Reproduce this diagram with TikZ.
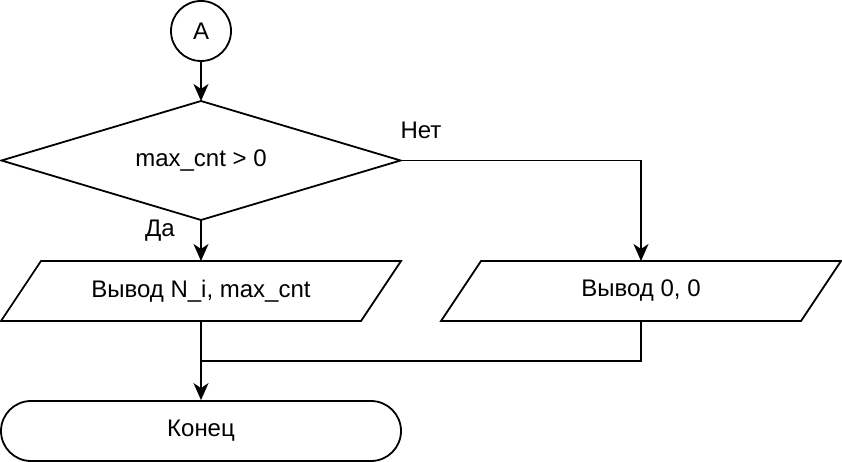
\documentclass[tikz,border=0pt]{standalone}
\usepackage{fontspec}
\setmainfont{Liberation Sans}
\usetikzlibrary{shapes.geometric,arrows.meta}
\begin{document}
\begin{tikzpicture}[x=1pt,y=-1pt,
  every node/.style={font=\fontsize{24}{28}\selectfont},
  line/.style={line width=1.8pt},
  arr/.style={line, -{Stealth[length=17pt,width=15pt,inset=5pt]}},
  shp/.style={draw, line width=1.8pt, inner sep=0pt},
  box/.style={rectangle, inner sep=0pt, outer sep=0pt}
]
\useasboundingbox (0,0) rectangle (842,462);
\node[shp, circle, minimum size=60pt] (a) at (201,31) {A};
\node[box, minimum width=399pt, minimum height=119pt] (d) at (201,160.5) {max\_cnt > 0};
\draw[line, line join=miter] (d.north) -- (d.east) -- (d.south) -- (d.west) -- cycle;
\node[box, minimum width=360pt, minimum height=60pt] (p1) at (201,291) {Вывод N\_i, max\_cnt};
\node[box, minimum width=360pt, minimum height=60pt] (p2) at (641,291) {Вывод 0, 0};
\draw[line, line join=miter] ([xshift=20pt]p1.north west) -- ([xshift=20pt]p1.north east) -- ([xshift=-20pt]p1.south east) -- ([xshift=-20pt]p1.south west) -- cycle;
\draw[line, line join=miter] ([xshift=20pt]p2.north west) -- ([xshift=20pt]p2.north east) -- ([xshift=-20pt]p2.south east) -- ([xshift=-20pt]p2.south west) -- cycle;
\node[shp, rectangle, rounded corners=30pt, minimum width=400pt, minimum height=60pt] (e) at (201,431) {Конец};
\coordinate (m) at (201,361);
\coordinate (r) at (641,361);
\coordinate (c) at (641,160.5);
\node (no) at (421,130) {Нет};
\node (yes) at (160,231) {Да};
\draw[arr] (a) -- (d.north);
\draw[arr] (d.south) -- (p1);
\draw[arr] (d.east) -- (c) -- (p2);
\draw[line] (p1) -- (m);
\draw[line] (p2) -- (r) -- (m);
\draw[arr] (m) -- (e);
\end{tikzpicture}
\end{document}
